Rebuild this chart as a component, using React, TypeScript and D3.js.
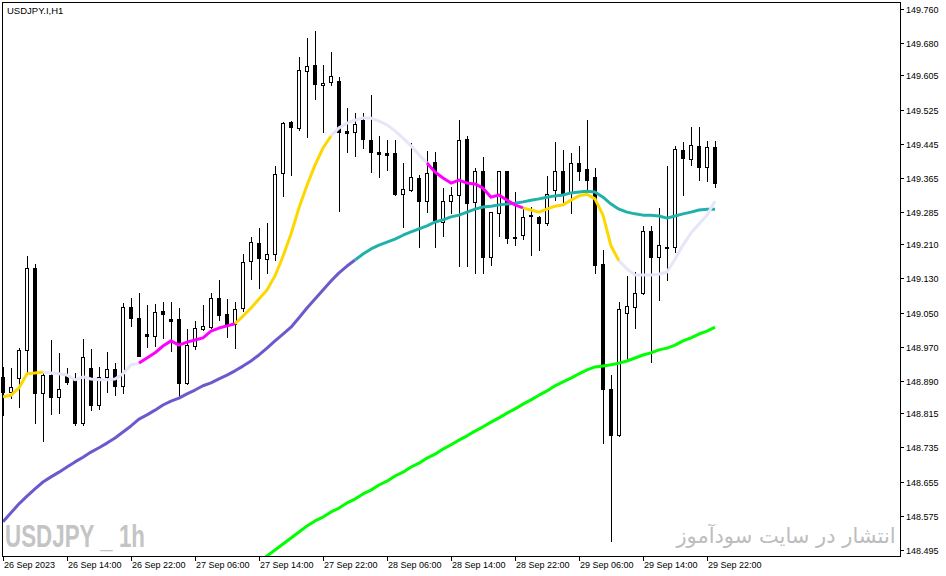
import React from "react";
import * as d3 from "d3";

// first bar: 26 Sep 2023 06:00, one bar per hour
const START = new Date(2023, 8, 26, 6, 0);
const TITLE = "USDJPY.I,H1";
const WATERMARK = "USDJPY _ 1h";
const SITE_TEXT = "انتشار در سایت سودآموز";

// [open, high, low, close]
const bars: [number, number, number, number][] = [
  [148.900, 148.923, 148.811, 148.865],
  [148.865, 148.921, 148.850, 148.876],
  [148.897, 148.967, 148.829, 148.963],
  [148.963, 149.182, 148.911, 149.154],
  [149.154, 149.164, 148.792, 148.862],
  [148.862, 148.911, 148.750, 148.904],
  [148.904, 148.986, 148.813, 148.853],
  [148.853, 148.956, 148.815, 148.872],
  [148.904, 148.921, 148.883, 148.888],
  [148.895, 148.909, 148.787, 148.792],
  [148.792, 148.988, 148.787, 148.946],
  [148.921, 148.965, 148.822, 148.834],
  [148.834, 148.923, 148.825, 148.900],
  [148.900, 148.958, 148.865, 148.918],
  [148.918, 148.932, 148.857, 148.879],
  [148.879, 149.073, 148.862, 149.063],
  [149.063, 149.084, 149.019, 149.038],
  [149.038, 149.096, 148.949, 148.949],
  [149.000, 149.068, 148.970, 148.995],
  [148.995, 149.070, 148.972, 149.052],
  [149.054, 149.075, 148.991, 149.047],
  [149.035, 149.075, 148.960, 149.031],
  [149.035, 149.061, 148.855, 148.886],
  [148.886, 149.012, 148.883, 148.974],
  [148.972, 149.031, 148.965, 149.014],
  [149.012, 149.068, 149.009, 149.019],
  [149.016, 149.096, 149.014, 149.084],
  [149.084, 149.126, 149.033, 149.045],
  [149.047, 149.082, 148.993, 149.024],
  [149.024, 149.075, 148.967, 149.059],
  [149.061, 149.187, 149.054, 149.168],
  [149.171, 149.227, 149.129, 149.215],
  [149.213, 149.248, 149.108, 149.178],
  [149.175, 149.260, 149.143, 149.187],
  [149.187, 149.393, 149.173, 149.374],
  [149.377, 149.496, 149.323, 149.493],
  [149.496, 149.498, 149.372, 149.484],
  [149.482, 149.648, 149.477, 149.617],
  [149.615, 149.692, 149.461, 149.627],
  [149.629, 149.709, 149.550, 149.585],
  [149.582, 149.629, 149.472, 149.587],
  [149.589, 149.659, 149.582, 149.603],
  [149.592, 149.601, 149.288, 149.472],
  [149.475, 149.528, 149.426, 149.470],
  [149.472, 149.517, 149.416, 149.491],
  [149.500, 149.517, 149.435, 149.456],
  [149.454, 149.559, 149.379, 149.426],
  [149.426, 149.463, 149.367, 149.421],
  [149.423, 149.454, 149.384, 149.419],
  [149.423, 149.454, 149.325, 149.327],
  [149.327, 149.400, 149.250, 149.339],
  [149.337, 149.447, 149.334, 149.367],
  [149.365, 149.372, 149.203, 149.311],
  [149.311, 149.428, 149.285, 149.377],
  [149.402, 149.426, 149.203, 149.267],
  [149.262, 149.341, 149.229, 149.311],
  [149.311, 149.344, 149.283, 149.325],
  [149.325, 149.500, 149.159, 149.454],
  [149.456, 149.463, 149.159, 149.306],
  [149.309, 149.388, 149.143, 149.381],
  [149.381, 149.414, 149.143, 149.180],
  [149.180, 149.285, 149.161, 149.285],
  [149.283, 149.381, 149.229, 149.381],
  [149.381, 149.381, 149.213, 149.224],
  [149.227, 149.332, 149.208, 149.224],
  [149.231, 149.297, 149.222, 149.274],
  [149.278, 149.297, 149.185, 149.276],
  [149.274, 149.276, 149.196, 149.260],
  [149.260, 149.370, 149.255, 149.327],
  [149.337, 149.449, 149.313, 149.381],
  [149.381, 149.430, 149.302, 149.330],
  [149.330, 149.423, 149.283, 149.400],
  [149.400, 149.440, 149.360, 149.381],
  [149.386, 149.500, 149.339, 149.360],
  [149.367, 149.388, 149.143, 149.161],
  [149.164, 149.196, 148.745, 148.872],
  [148.872, 148.904, 148.516, 148.764],
  [148.764, 149.075, 148.762, 149.059],
  [149.049, 149.136, 148.942, 149.066],
  [149.063, 149.145, 149.014, 149.096],
  [149.096, 149.253, 149.094, 149.241],
  [149.241, 149.253, 148.935, 149.180],
  [149.180, 149.295, 149.080, 149.208],
  [149.201, 149.393, 149.126, 149.203],
  [149.203, 149.440, 149.192, 149.433],
  [149.430, 149.449, 149.325, 149.412],
  [149.409, 149.484, 149.395, 149.442],
  [149.440, 149.484, 149.360, 149.391],
  [149.391, 149.451, 149.358, 149.437],
  [149.437, 149.451, 149.344, 149.353],
];

// fast MA, colour changes every few bars (see fastSegments)
const fastMa = [
  148.853, 148.857, 148.874, 148.907, 148.909, 148.911, 148.909, 148.907, 148.904, 148.893,
  148.900, 148.895, 148.893, 148.893, 148.895, 148.907, 148.928, 148.932, 148.944, 148.956,
  148.972, 148.984, 148.974, 148.981, 148.986, 148.991, 149.007, 149.014, 149.019, 149.024,
  149.042, 149.061, 149.082, 149.103, 149.136, 149.182, 149.234, 149.295, 149.348, 149.395,
  149.435, 149.463, 149.482, 149.493, 149.500, 149.505, 149.505, 149.498, 149.489, 149.475,
  149.458, 149.440, 149.419, 149.400, 149.379, 149.365, 149.353, 149.360, 149.353, 149.351,
  149.341, 149.320, 149.325, 149.313, 149.302, 149.295, 149.290, 149.285, 149.292, 149.299,
  149.302, 149.313, 149.323, 149.327, 149.316, 149.278, 149.206, 149.171, 149.152, 149.138,
  149.138, 149.138, 149.140, 149.145, 149.175, 149.208, 149.236, 149.257, 149.278, 149.311,
];

const slowMa = [
  148.561, 148.582, 148.603, 148.621, 148.638, 148.654, 148.666, 148.677, 148.689, 148.701,
  148.712, 148.724, 148.734, 148.745, 148.757, 148.771, 148.785, 148.801, 148.811, 148.822,
  148.834, 148.843, 148.850, 148.860, 148.869, 148.879, 148.886, 148.895, 148.904, 148.914,
  148.925, 148.937, 148.951, 148.967, 148.984, 149.000, 149.016, 149.038, 149.061, 149.082,
  149.103, 149.124, 149.143, 149.159, 149.173, 149.187, 149.199, 149.208, 149.215, 149.222,
  149.231, 149.239, 149.246, 149.253, 149.262, 149.267, 149.274, 149.278, 149.285, 149.292,
  149.297, 149.299, 149.302, 149.304, 149.306, 149.309, 149.313, 149.316, 149.320, 149.323,
  149.325, 149.330, 149.332, 149.334, 149.332, 149.320, 149.304, 149.292, 149.285, 149.281,
  149.278, 149.278, 149.276, 149.271, 149.276, 149.281, 149.285, 149.290, 149.292, 149.292,
];

// long MA, visible from bar 32 on
const LONG_START = 32;
const longMa = [
  148.467, 148.481, 148.495, 148.509, 148.523, 148.537, 148.551, 148.563, 148.572, 148.584,
  148.593, 148.605, 148.614, 148.626, 148.635, 148.647, 148.656, 148.668, 148.677, 148.689,
  148.698, 148.710, 148.719, 148.731, 148.741, 148.752, 148.762, 148.773, 148.783, 148.794,
  148.804, 148.815, 148.825, 148.836, 148.846, 148.857, 148.867, 148.879, 148.888, 148.897,
  148.907, 148.916, 148.923, 148.925, 148.928, 148.932, 148.937, 148.944, 148.951, 148.956,
  148.963, 148.967, 148.974, 148.984, 148.991, 149.000, 149.007, 149.016,
];

// [from bar, to bar, colour]
const fastSegments: [number, number, string][] = [
  [0, 5, "#FFD700"],
  [5, 17, "#E6E6FA"],
  [17, 29, "#FF00FF"],
  [29, 41, "#FFD700"],
  [41, 53, "#E6E6FA"],
  [53, 65, "#FF00FF"],
  [65, 77, "#FFD700"],
  [77, 89, "#E6E6FA"],
];
const slowSegments: [number, number, string][] = [
  [0, 44, "#6A5ACD"],
  [44, 89, "#20B2AA"],
];

const priceTicks = [
  149.76, 149.68, 149.605, 149.525, 149.445, 149.365, 149.285, 149.21, 149.13,
  149.05, 148.97, 148.89, 148.815, 148.735, 148.655, 148.575, 148.495,
];
const timeTickLabels = [
  "26 Sep 2023", "26 Sep 14:00", "26 Sep 22:00", "27 Sep 06:00", "27 Sep 14:00",
  "27 Sep 22:00", "28 Sep 06:00", "28 Sep 14:00", "28 Sep 22:00", "29 Sep 06:00",
  "29 Sep 14:00", "29 Sep 22:00",
];
const TICK_EVERY = 8; // bars between time labels

const W = 946;
const H = 576;
const plot = { left: 2, top: 2, right: 900, bottom: 556 };
const FONT = "'Liberation Sans', Arial, sans-serif";

export default function App() {
  const times = bars.map((_, i) => d3.timeHour.offset(START, i));
  const x = d3
    .scaleTime()
    .domain([START, times[times.length - 1]])
    .range([3, 3 + 8 * (bars.length - 1)]);
  const y = d3.scaleLinear().domain([148.495, 149.76]).range([550, 9]);

  const px = (i: number) => Math.round(x(times[i]));
  const py = (v: number) => Math.round(y(v));

  const line = d3
    .line<[number, number]>()
    .x((d) => x(times[d[0]]))
    .y((d) => y(d[1]));

  const segPath = (vals: number[], offset: number, a: number, b: number) => {
    const pts: [number, number][] = [];
    for (let i = a; i <= b; i++) {
      const v = vals[i - offset];
      if (v !== undefined) pts.push([i, v]);
    }
    return line(pts) || "";
  };

  return (
    <svg
      width={W}
      height={H}
      style={{ position: "absolute", left: 0, top: 0, background: "#fff" }}
    >
      <defs>
        <clipPath id="plotClip">
          <rect
            x={plot.left + 1}
            y={plot.top + 1}
            width={plot.right - plot.left - 1}
            height={plot.bottom - plot.top - 1}
          />
        </clipPath>
      </defs>
      <rect width={W} height={H} fill="#fff" />

      {/* watermarks */}
      <text
        x={5}
        y={547}
        fontFamily={FONT}
        fontWeight="bold"
        fontSize={32}
        fill="#c4c4c4"
        textLength={140}
        lengthAdjust="spacingAndGlyphs"
      >
        {WATERMARK}
      </text>
      <text
        x={786}
        y={543}
        fontFamily="'DejaVu Sans', sans-serif"
        fontSize={21}
        fill="#bdbdbd"
        textAnchor="middle"
      >
        {SITE_TEXT}
      </text>

      {/* candles */}
      <g shapeRendering="crispEdges">
        {bars.map(([o, h, l, c], i) => {
          const cx = px(i);
          const up = c >= o;
          const top = py(Math.max(o, c));
          const bot = py(Math.min(o, c));
          return (
            <g key={i}>
              <line
                x1={cx + 0.5}
                x2={cx + 0.5}
                y1={py(h)}
                y2={py(l) + 1}
                stroke="#000"
              />
              {up ? (
                <rect
                  x={cx - 1.5}
                  y={top + 0.5}
                  width={3}
                  height={Math.max(0, bot - top)}
                  fill="#fff"
                  stroke="#000"
                />
              ) : (
                <rect
                  x={cx - 2}
                  y={top}
                  width={4}
                  height={Math.max(1, bot - top + 1)}
                  fill="#000"
                />
              )}
            </g>
          );
        })}
      </g>

      {/* moving averages */}
      <g clipPath="url(#plotClip)" fill="none" strokeWidth={3} strokeLinejoin="round">
        <path
          d={segPath(longMa, LONG_START, LONG_START, bars.length - 1)}
          stroke="#00FF00"
        />
        {slowSegments.map(([a, b, col], k) => (
          <path key={"s" + k} d={segPath(slowMa, 0, a, b)} stroke={col} />
        ))}
        {fastSegments.map(([a, b, col], k) => (
          <path key={"f" + k} d={segPath(fastMa, 0, a, b)} stroke={col} />
        ))}
      </g>

      {/* frame */}
      <rect
        x={plot.left + 0.5}
        y={plot.top + 0.5}
        width={plot.right - plot.left}
        height={plot.bottom - plot.top}
        fill="none"
        stroke="#000"
        shapeRendering="crispEdges"
      />

      <text x={7} y={14} fontFamily={FONT} fontSize={9.5} fill="#000">
        {TITLE}
      </text>

      {/* price axis */}
      {priceTicks.map((v) => {
        const ty = py(v);
        return (
          <g key={v}>
            <line
              x1={plot.right + 1}
              x2={plot.right + 4}
              y1={ty + 0.5}
              y2={ty + 0.5}
              stroke="#000"
              shapeRendering="crispEdges"
            />
            <text x={906} y={ty + 3.5} fontFamily={FONT} fontSize={9} fill="#000">
              {d3.format(".3f")(v)}
            </text>
          </g>
        );
      })}

      {/* time axis */}
      {timeTickLabels.map((lab, k) => {
        const tx = px(k * TICK_EVERY);
        return (
          <g key={lab}>
            <line
              x1={tx + 0.5}
              x2={tx + 0.5}
              y1={plot.bottom + 1}
              y2={plot.bottom + 5}
              stroke="#000"
              shapeRendering="crispEdges"
            />
            <text x={tx + 1} y={568} fontFamily={FONT} fontSize={9} fill="#000">
              {lab}
            </text>
          </g>
        );
      })}
    </svg>
  );
}
